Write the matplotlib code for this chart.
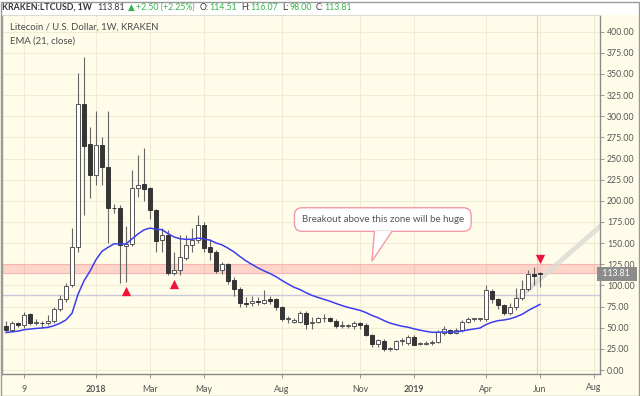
import matplotlib
matplotlib.use("Agg")
import matplotlib.pyplot as plt
from matplotlib.patches import Rectangle, Polygon
from matplotlib.transforms import Bbox, TransformedBbox
import numpy as np

plt.rcParams['font.family'] = ['Lato', 'DejaVu Sans']

# ---------------- data (weekly candles, index 0 = 18 Sep 2017) ----------------
opens = [52, 47, 55, 53, 66, 56, 56, 55, 58, 72, 84, 100, 145, 314, 267, 231, 266, 240, 192, 192,
         147, 149, 215, 220, 215, 189, 154, 160, 115, 118, 133, 148, 154, 172, 145, 140, 118, 125, 106, 96,
         79, 79, 82, 79, 84, 84, 75, 60, 57, 57, 68, 55, 57, 61, 61, 58, 52, 52, 52, 55,
         53, 41, 31, 34, 25, 25, 34, 32, 39, 31, 31, 32, 33, 44, 47, 44, 47, 57, 60, 60,
         60, 93, 84, 77, 67, 75, 85, 96, 114, 114.51]
highs = [58, 58, 57, 69, 67, 60, 58, 65, 75, 89, 103, 168, 351, 370, 287, 306, 275, 306, 196, 195,
         170, 237, 254, 263, 216, 190, 168, 165, 140, 160, 160, 168, 183, 175, 155, 142, 128, 127, 110, 98,
         86, 88, 86, 95, 88, 85, 76, 64, 61, 70, 70, 63, 63, 66, 63, 60, 58, 54, 58, 57,
         55, 43, 37, 37, 27, 36, 38, 41, 41, 33, 34, 35, 47, 52, 49, 50, 59, 63, 62, 62,
         101, 96, 85, 78, 79, 97, 106, 118, 122, 116.07]
lows = [45, 45, 51, 50, 53, 53, 50, 53, 56, 70, 80, 98, 140, 183, 203, 219, 219, 150, 186, 103,
        104, 147, 205, 200, 178, 140, 140, 112, 112, 112, 130, 140, 150, 140, 130, 115, 113, 102, 87, 74,
        75, 76, 77, 78, 78, 71, 58, 56, 55, 55, 49, 49, 55, 57, 57, 50, 50, 50, 49, 48,
        40, 27, 27, 22, 23, 24, 30, 30, 29, 29, 29, 30, 32, 41, 42, 43, 45, 55, 58, 58,
        58, 79, 72, 65, 65, 71, 83, 93, 101, 98.00]
closes = [47, 55, 53, 65, 56, 56.5, 55, 58, 72, 84, 99, 145, 314, 265, 231, 266, 240, 191, 191, 148,
          149, 215, 219, 214, 189, 153, 160, 115, 118, 134, 148, 154, 171, 144, 140, 117, 125, 105, 96, 79,
          78, 82, 80, 83, 82, 74, 60, 60.5, 59, 68, 54, 57, 61, 61.5, 58.5, 52, 52.5, 52, 55, 53,
          41, 31, 35, 25, 25.5, 34, 34, 39, 30, 31, 32, 33, 45, 48, 44, 47, 57, 60, 60.5, 60,
          95, 84, 77, 67, 75, 85, 96, 114, 111.31, 113.81]
ema_start = 44.0          # EMA(21) level read just before the first visible bar
ema_span = 21

tick_pos = [3, 15, 24, 33, 46, 59, 68, 80, 89]
tick_labels = ["9", "2018", "Mar", "May", "Aug", "Nov", "2019", "Apr", "Jun"]
edge_tick_pos, edge_tick_label = 98, "Aug"   # partly hidden behind the price axis
bold_labels = ["2018", "2019"]
y_ticks = list(range(0, 401, 25))

zone_low, zone_high = 114.5, 125.3
hline_level = 88.5
last_price = 113.81
up_marks_x, up_marks_y = [20, 28], [93.4, 101.7]
down_marks_x, down_marks_y = [89], [131.8]
trend_x, trend_y = [85.0, 100.0], [82.8, 176.0]
callout_text = "Breakout above this zone will be huge"

# ---------------- style ----------------
W, H = 640, 396
BG = '#fffde9'
GRID = '#efecd6'
UP_FACE, UP_EDGE = '#ffffff', '#555555'
DN_FACE = '#363636'
WICK = '#666666'
EMA_C = '#3d3df0'
RED = '#f0143c'
GREEN = '#35b34a'

fig = plt.figure(figsize=(W / 100, H / 100), dpi=100)
fig.patch.set_facecolor(BG)
PL, PR, PT, PB = 2, 600, 15, 374
ax = fig.add_axes([PL / W, 1 - PB / H, (PR - PL) / W, (PB - PT) / H])
ax.set_facecolor(BG)
ax.set_xlim(-0.667, 99)
ax.set_ylim(-4.7, 419.7)

# grid
for yv in y_ticks:
    ax.axhline(yv, color=GRID, lw=0.8, zorder=0)
for xv in tick_pos + [edge_tick_pos]:
    ax.axvline(xv, color=GRID, lw=0.8, zorder=0)
ax.axvline(88.5, color='#d6d6d2', lw=0.8, zorder=0.5)

# zone and level line
ax.axhspan(zone_low, zone_high, facecolor='#f23645', alpha=0.2, lw=0, zorder=1)
ax.axhline(zone_low, color='#f5b5b8', lw=0.8, zorder=1)
ax.axhline(zone_high, color='#f5b5b8', lw=0.8, zorder=1)
ax.axhline(hline_level, color='#c9c8dc', lw=1.0, zorder=1)

# trend channel
ax.plot(trend_x, trend_y, color='#dcdcd6', lw=3.5, alpha=0.85, solid_capstyle='butt', zorder=1.5)

# candles
idx = np.arange(len(opens))
o = np.array(opens, float); h = np.array(highs, float)
l = np.array(lows, float); c = np.array(closes, float)
ax.vlines(idx, l, h, color=WICK, lw=0.8, zorder=2)
up = c >= o
bottom = np.minimum(o, c)
height = np.maximum(np.abs(c - o), 1.0)
ax.bar(idx[up], height[up], bottom=bottom[up], width=0.62, facecolor=UP_FACE,
       edgecolor=UP_EDGE, linewidth=0.7, zorder=3)
ax.bar(idx[~up], height[~up], bottom=bottom[~up], width=0.62, facecolor=DN_FACE,
       edgecolor=DN_FACE, linewidth=0.7, zorder=3)

# EMA 21 of closes
alpha = 2.0 / (ema_span + 1)
ema = []
prev = ema_start
for cl in closes:
    prev = prev + alpha * (cl - prev)
    ema.append(prev)
ax.plot(idx, ema, color=EMA_C, lw=1.1, zorder=4)

# markers
ax.scatter(up_marks_x, up_marks_y, marker='^', s=45, color=RED, zorder=5, linewidths=0)
ax.scatter(down_marks_x, down_marks_y, marker='v', s=45, color=RED, zorder=5, linewidths=0)

# callout
ax.text(62.8, 177.9, callout_text, ha='center', va='center', fontsize=7, color='#555555', zorder=7,
        bbox=dict(boxstyle='round,pad=0.75,rounding_size=0.8', facecolor='white',
                  edgecolor='#f29aa8', lw=1.0))
tail = Polygon([[61.4, 164.5], [61.0, 128.9], [64.3, 164.5]], closed=False,
               facecolor='white', edgecolor='none', zorder=8)
ax.add_patch(tail)
ax.plot([61.4, 61.0, 64.3], [163.6, 128.9, 163.6], color='#f29aa8', lw=1.0, zorder=8)

# axes
ax.yaxis.tick_right()
ax.set_yticks(y_ticks)
ax.set_yticklabels([f"{v:.2f}" for v in y_ticks])
ax.tick_params(axis='y', length=3, width=0.6, color='#888888', labelsize=6.3,
               labelcolor='#555555', pad=2)
ax.set_xticks(tick_pos + [edge_tick_pos])
ax.set_xticklabels(tick_labels + [""])
for t in ax.get_xticklabels():
    if t.get_text() in bold_labels:
        t.set_fontweight('bold')
ax.tick_params(axis='x', length=3, width=0.6, color='#888888', labelsize=6.3,
               labelcolor='#555555', pad=5)
# the last month label is cut by the price axis, as in the source
edge_lbl = ax.text(edge_tick_pos, -13.5 / (PB - PT), edge_tick_label, transform=ax.get_xaxis_transform(),
                   ha='center', va='center', fontsize=6.3, color='#555555', clip_on=True)
edge_lbl.set_clip_box(TransformedBbox(Bbox([[0, 0], [PR / W, 1]]), fig.transFigure))

for s in ['right', 'bottom']:
    ax.spines[s].set_color('#8a8a8a'); ax.spines[s].set_linewidth(1.0)
ax.spines['left'].set_color('#9a9a9a'); ax.spines['left'].set_linewidth(1.0)
ax.spines['top'].set_color('#dcdcd0'); ax.spines['top'].set_linewidth(0.8)

# last price label on the price axis
ax.text(1.0, last_price, f" {last_price:.2f}  ", transform=ax.get_yaxis_transform(),
        ha='left', va='center', fontsize=6.3, color='white', zorder=10, clip_on=False,
        bbox=dict(boxstyle='square,pad=0.3', facecolor='#8c8c8c', edgecolor='none'))

# header strip
fig.patches.append(Rectangle((0, 1 - PT / H), 1, PT / H, transform=fig.transFigure,
                             facecolor='white', edgecolor='none', zorder=0))
hy = 1 - 7.5 / H
pieces = [("KRAKEN:LTCUSD, 1W", 5, 'bold', '#333333'),
          ("113.81", 3, 'normal', '#333333'),
          ("\u25B2", 2, 'normal', GREEN),
          ("+2.50 (+2.25%)", 5, 'normal', GREEN),
          ("O:", 0.5, 'normal', '#333333'), ("114.51", 4, 'normal', GREEN),
          ("H:", 0.5, 'normal', '#333333'), ("116.07", 4, 'normal', GREEN),
          ("L:", 0.5, 'normal', '#333333'), ("98.00", 4, 'normal', GREEN),
          ("C:", 0.5, 'normal', '#333333'), ("113.81", 4, 'normal', GREEN)]
renderer = fig.canvas.get_renderer()
xpos = 2.0
for txt, gap, wt, col in pieces:
    t = fig.text(xpos / W, hy, txt, fontsize=6.3, fontweight=wt, color=col, ha='left', va='center')
    xpos += t.get_window_extent(renderer=renderer).width + gap

# legend
fig.text(10 / W, 1 - 27 / H, "Litecoin / U.S. Dollar, 1W, KRAKEN", fontsize=6.8,
         color='#4a4a4a', ha='left', va='center')
fig.text(10 / W, 1 - 41 / H, "EMA (21, close)", fontsize=6.8, color='#4a4a4a',
         ha='left', va='center')

# outer frame
fig.patches.append(Rectangle((0.5 / W, 0.5 / H), (W - 2) / W, (H - 2) / H, transform=fig.transFigure,
                             facecolor='none', edgecolor='#9a9a9a', lw=1.0, zorder=20))

fig.savefig('out.png', dpi=100, facecolor=fig.get_facecolor())
